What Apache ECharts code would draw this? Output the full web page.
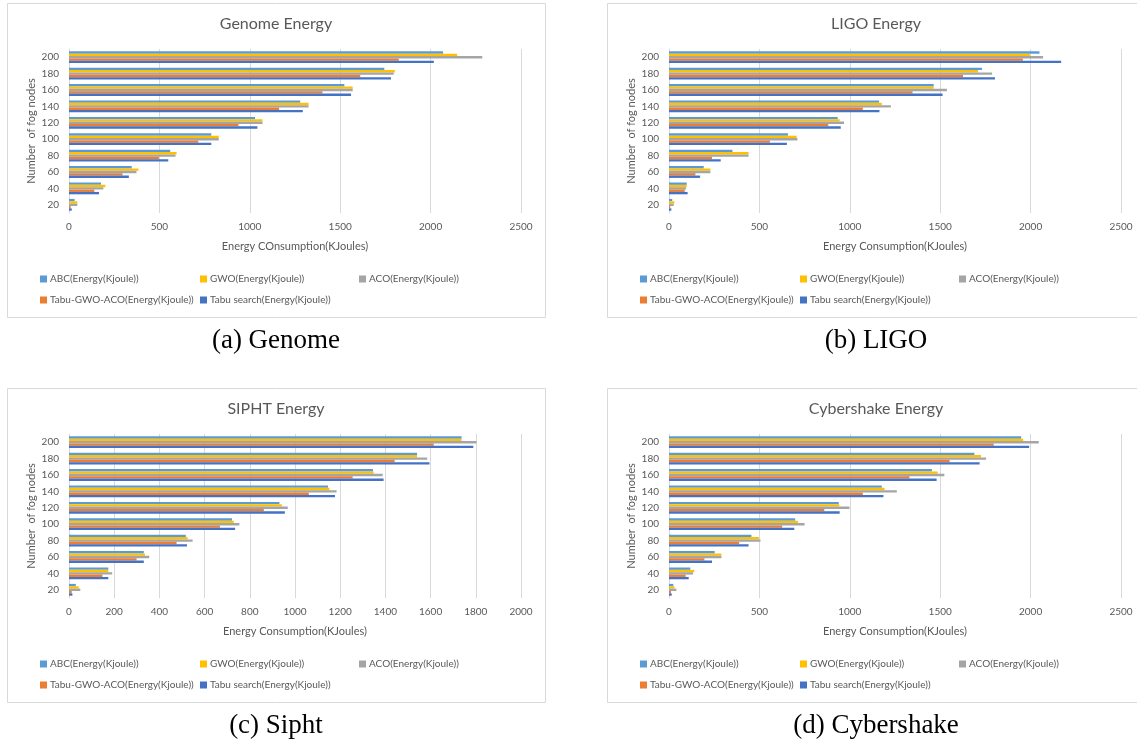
<!DOCTYPE html>
<html>
<head>
<meta charset="utf-8">
<script src="https://cdn.jsdelivr.net/npm/echarts@6/dist/echarts.min.js"></script>
<style>
  html, body { margin: 0; padding: 0; background: #ffffff; }
  #chart { width: 1137px; height: 744px; }
</style>
</head>
<body>
<div id="chart"></div>
<script>
// Fog node counts on the category axis (bottom to top)
const nodeCounts = ['20', '40', '60', '80', '100', '120', '140', '160', '180', '200'];

const algorithmNames = [
  'ABC(Energy(Kjoule))',
  'GWO(Energy(Kjoule))',
  'ACO(Energy(Kjoule))',
  'Tabu-GWO-ACO(Energy(Kjoule))',
  'Tabu search(Energy(Kjoule))'
];
const algorithmColors = ['#5B9BD5', '#FFC000', '#A5A5A5', '#ED7D31', '#4472C4'];

// Genome workflow energy (KJoules), 20 .. 200 fog nodes
const genomeABC    = [31, 177, 347, 560, 787, 1029, 1279, 1523, 1744, 2069];
const genomeGWO    = [46, 201, 384, 595, 828, 1070, 1325, 1569, 1802, 2147];
const genomeACO    = [46, 190, 373, 589, 828, 1070, 1325, 1569, 1796, 2286];
const genomeHybrid = [9, 140, 296, 497, 715, 937, 1162, 1402, 1611, 1824];
const genomeTabu   = [15, 166, 331, 549, 787, 1042, 1293, 1560, 1781, 2018];

// LIGO workflow energy (KJoules)
const ligoABC    = [18, 98, 192, 351, 658, 933, 1162, 1464, 1731, 2049];
const ligoGWO    = [30, 98, 229, 440, 706, 944, 1177, 1464, 1709, 1996];
const ligoACO    = [26, 94, 229, 440, 710, 968, 1227, 1537, 1787, 2069];
const ligoHybrid = [7, 87, 146, 238, 558, 881, 1072, 1347, 1626, 1957];
const ligoTabu   = [13, 103, 172, 286, 652, 950, 1164, 1513, 1803, 2169];

// SIPHT workflow energy (KJoules)
const siphtABC    = [30, 174, 331, 517, 721, 931, 1146, 1345, 1540, 1737];
const siphtGWO    = [43, 174, 336, 525, 729, 942, 1152, 1348, 1540, 1737];
const siphtACO    = [50, 191, 355, 547, 754, 968, 1184, 1388, 1585, 1803];
const siphtHybrid = [12, 148, 299, 476, 668, 862, 1061, 1255, 1441, 1614];
const siphtTabu   = [15, 174, 331, 522, 735, 955, 1177, 1392, 1595, 1789];

// Cybershake workflow energy (KJoules)
const cyberABC    = [24, 118, 253, 456, 698, 939, 1177, 1454, 1689, 1948];
const cyberGWO    = [30, 140, 290, 497, 713, 942, 1192, 1486, 1726, 1959];
const cyberACO    = [41, 133, 290, 506, 750, 998, 1260, 1523, 1754, 2045];
const cyberHybrid = [11, 92, 196, 388, 626, 859, 1072, 1330, 1552, 1796];
const cyberTabu   = [15, 109, 238, 440, 693, 944, 1186, 1480, 1718, 1992];

// Axis ticks for each panel
const ticksDefault = { max: 2500, interval: 500 };
const ticksSipht   = { max: 2000, interval: 200 };

const panels = [
  { title: 'Genome Energy', caption: '(a) Genome', xName: 'Energy COnsumption(KJoules)', ticks: ticksDefault,
    values: [genomeABC, genomeGWO, genomeACO, genomeHybrid, genomeTabu] },
  { title: 'LIGO Energy', caption: '(b) LIGO', xName: 'Energy Consumption(KJoules)', ticks: ticksDefault,
    values: [ligoABC, ligoGWO, ligoACO, ligoHybrid, ligoTabu] },
  { title: 'SIPHT Energy', caption: '(c) Sipht', xName: 'Energy Consumption(KJoules)', ticks: ticksSipht,
    values: [siphtABC, siphtGWO, siphtACO, siphtHybrid, siphtTabu] },
  { title: 'Cybershake Energy', caption: '(d) Cybershake', xName: 'Energy Consumption(KJoules)', ticks: ticksDefault,
    values: [cyberABC, cyberGWO, cyberACO, cyberHybrid, cyberTabu] }
];

// Panel frame origins and size
const frameOrigins = [[7, 3], [607, 3], [7, 388], [607, 388]];
const frameW = 538, frameH = 314;

const uiFont = 'Lato, "Open Sans", sans-serif';
const textGray = '#595959';
const gridGray = '#d9d9d9';

const grids = [], xAxes = [], yAxes = [], series = [], legends = [], graphics = [];

// legend slots: [column, row]
const legendSlots = [[0, 0], [1, 0], [2, 0], [0, 1], [1, 1]];
const legendColX = [33, 193, 352];
const legendRowY = [277, 298];

panels.forEach((p, i) => {
  const [bx, by] = frameOrigins[i];

  graphics.push({
    type: 'rect', silent: true, z: -10,
    shape: { x: bx + 0.5, y: by + 0.5, width: frameW, height: frameH },
    style: { fill: '#ffffff', stroke: gridGray, lineWidth: 1 }
  });
  graphics.push({
    type: 'text', silent: true,
    style: {
      text: p.title, x: bx + 269, y: by + 21,
      textAlign: 'center', textVerticalAlign: 'middle',
      font: '16px ' + uiFont, fill: textGray
    }
  });
  graphics.push({
    type: 'text', silent: true,
    style: {
      text: p.caption, x: bx + 269, y: by + frameH + 24,
      textAlign: 'center', textVerticalAlign: 'middle',
      font: '27px "Liberation Serif", "DejaVu Serif", serif', fill: '#000000'
    }
  });

  grids.push({ left: bx + 62, top: by + 46, width: 452, height: 164, containLabel: false });

  xAxes.push({
    type: 'value', gridIndex: i, min: 0, max: p.ticks.max, interval: p.ticks.interval,
    name: p.xName, nameLocation: 'middle', nameGap: 28,
    nameTextStyle: { color: textGray, fontSize: 11, fontFamily: uiFont },
    axisLine: { show: false }, axisTick: { show: false },
    axisLabel: { color: textGray, fontSize: 10, fontFamily: uiFont, margin: 9,
                 formatter: (v) => String(v) },
    splitLine: { show: true, lineStyle: { color: gridGray, width: 1 } }
  });

  yAxes.push({
    type: 'category', gridIndex: i, data: nodeCounts,
    name: 'Number  of fog nodes', nameLocation: 'middle', nameGap: 32,
    nameTextStyle: { color: textGray, fontSize: 11, fontFamily: uiFont },
    axisLine: { show: true, lineStyle: { color: gridGray } },
    axisTick: { show: false },
    axisLabel: { color: textGray, fontSize: 10, fontFamily: uiFont, margin: 10 },
    splitLine: { show: false }
  });

  algorithmNames.forEach((name, k) => {
    series.push({
      type: 'bar', name: name, xAxisIndex: i, yAxisIndex: i,
      data: p.values[k],
      itemStyle: { color: algorithmColors[k] },
      barGap: '0%', barCategoryGap: '28%',
      emphasis: { disabled: true }
    });
    const [col, row] = legendSlots[k];
    legends.push({
      data: [name], left: bx + legendColX[col], top: by + legendRowY[row] - 6,
      padding: 0, itemWidth: 7, itemHeight: 7, icon: 'rect',
      textStyle: { color: textGray, fontSize: 10, fontFamily: uiFont, padding: [0, 0, 0, -2] },
      selectedMode: false
    });
  });
});

const chart = echarts.init(document.getElementById('chart'), null, { renderer: 'canvas' });
chart.setOption({
  animation: false,
  backgroundColor: '#ffffff',
  color: algorithmColors,
  grid: grids,
  xAxis: xAxes,
  yAxis: yAxes,
  legend: legends,
  series: series,
  graphic: graphics
});
</script>
</body>
</html>
